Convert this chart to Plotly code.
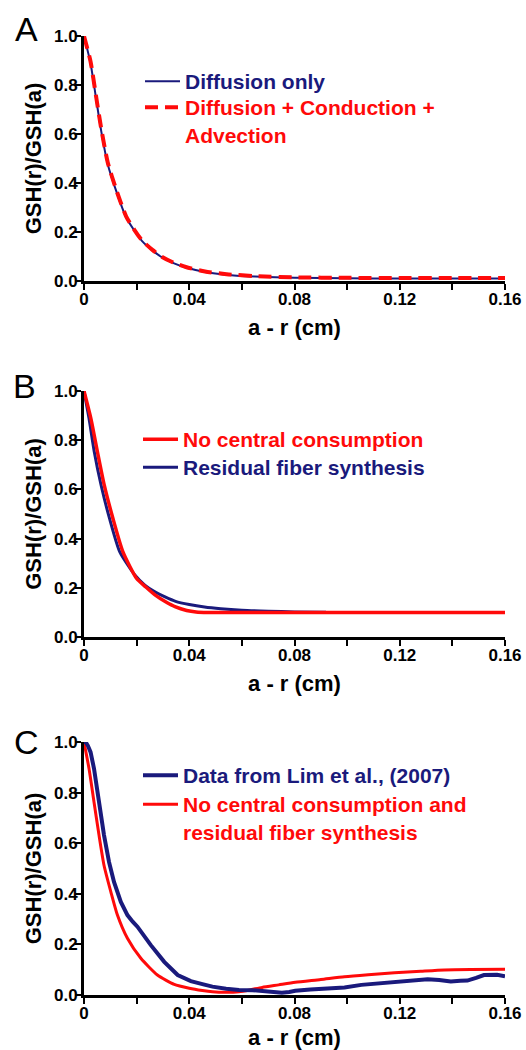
import plotly.graph_objects as go

# ---------------- Data ----------------
# Panel A
a_x = [0, 0.0025, 0.0045, 0.0065, 0.009, 0.0122, 0.016, 0.019, 0.022, 0.026, 0.0297,
       0.034, 0.0387, 0.046, 0.055, 0.065, 0.08, 0.10, 0.12, 0.14, 0.16]
a_diffusion = [1.0, 0.888, 0.751, 0.615, 0.478, 0.369, 0.26, 0.208, 0.164, 0.125, 0.096,
               0.073, 0.055, 0.037, 0.025, 0.018, 0.013, 0.011, 0.010, 0.010, 0.010]
a_full = [1.0, 0.895, 0.76, 0.625, 0.485, 0.374, 0.264, 0.211, 0.166, 0.127, 0.098,
          0.075, 0.057, 0.039, 0.027, 0.020, 0.015, 0.013, 0.012, 0.012, 0.012]

# Panel B
b_x_red = [0, 0.0026, 0.0051, 0.0077, 0.011, 0.0148, 0.020, 0.0235, 0.0271, 0.031, 0.0348,
           0.039, 0.0426, 0.047, 0.06, 0.08, 0.10, 0.12, 0.14, 0.16]
b_no_central = [1.0, 0.889, 0.753, 0.617, 0.482, 0.346, 0.238, 0.203, 0.170, 0.143, 0.122,
                0.108, 0.102, 0.100, 0.100, 0.100, 0.100, 0.100, 0.100, 0.100]
b_x_blue = [0, 0.0019, 0.0039, 0.0065, 0.0097, 0.0136, 0.0194, 0.023, 0.0271, 0.031, 0.0348,
            0.040, 0.0458, 0.052, 0.06, 0.07, 0.08, 0.092]
b_residual = [1.0, 0.889, 0.753, 0.617, 0.482, 0.346, 0.251, 0.212, 0.183, 0.162, 0.145,
              0.132, 0.122, 0.115, 0.109, 0.105, 0.102, 0.101]

# Panel C
c_x_data = [0, 0.0006, 0.0015, 0.0025, 0.0038, 0.0057, 0.0076, 0.0095, 0.0114, 0.014, 0.0165,
            0.0185, 0.0203, 0.0254, 0.0305, 0.0356, 0.0406, 0.045, 0.0488, 0.054, 0.0589,
            0.064, 0.0677, 0.071, 0.0752, 0.078, 0.0803, 0.086, 0.0928, 0.099, 0.1054, 0.112,
            0.118, 0.125, 0.1306, 0.135, 0.1394, 0.143, 0.1457, 0.149, 0.152, 0.157, 0.160]
c_lim_data = [1.0, 1.0, 0.985, 0.96, 0.895, 0.763, 0.632, 0.526, 0.447, 0.368, 0.316,
              0.29, 0.27, 0.197, 0.131, 0.079, 0.055, 0.043, 0.033, 0.025, 0.020,
              0.019, 0.017, 0.014, 0.009, 0.012, 0.017, 0.022, 0.026, 0.030, 0.040, 0.046,
              0.049, 0.054, 0.062, 0.059, 0.053, 0.056, 0.057, 0.068, 0.079, 0.080, 0.074]
c_x_model = [0, 0.0019, 0.0038, 0.0057, 0.0076, 0.0102, 0.0127, 0.0165, 0.0216, 0.0279,
             0.0343, 0.040, 0.045, 0.0488, 0.054, 0.0589, 0.063, 0.0677, 0.074, 0.0803,
             0.090, 0.099, 0.108, 0.118, 0.128, 0.137, 0.147, 0.160]
c_model = [1.0, 0.895, 0.763, 0.632, 0.513, 0.408, 0.316, 0.224, 0.145, 0.079,
           0.042, 0.027, 0.018, 0.013, 0.011, 0.013, 0.020, 0.030, 0.040, 0.050,
           0.061, 0.072, 0.080, 0.088, 0.094, 0.099, 0.101, 0.102]

x_ticks = [0, 0.04, 0.08, 0.12, 0.16]
x_tick_text = ["0", "0.04", "0.08", "0.12", "0.16"]
y_ticks = [0.0, 0.2, 0.4, 0.6, 0.8, 1.0]
y_tick_text = ["0.0", "0.2", "0.4", "0.6", "0.8", "1.0"]
panel_letters = ["A", "B", "C"]

NAVY = "#1a1a7c"
RED = "#ff0a0a"
W, H = 526, 1050
FONT = "Liberation Sans, Arial, sans-serif"
TICKFONT = dict(family=FONT, size=17, color="black", weight="bold")


def lbl(text, color):
    return f'<span style="color:{color}">{text}</span>'


fig = go.Figure()

# Panel A
fig.add_trace(go.Scatter(x=a_x, y=a_diffusion, mode="lines", xaxis="x", yaxis="y",
                         line=dict(color=NAVY, width=2, shape="spline", smoothing=0.6),
                         name=lbl("Diffusion only", NAVY), legend="legend"))
fig.add_trace(go.Scatter(x=a_x, y=a_full, mode="lines", xaxis="x", yaxis="y",
                         line=dict(color=RED, width=4, dash="13px,7px", shape="spline", smoothing=0.6),
                         name=lbl("Diffusion + Conduction +<br>Advection", RED), legend="legend2"))

# Panel B
fig.add_trace(go.Scatter(x=b_x_blue, y=b_residual, mode="lines", xaxis="x2", yaxis="y2",
                         line=dict(color=NAVY, width=3, shape="spline", smoothing=0.6),
                         name=lbl("Residual fiber synthesis", NAVY), legend="legend4"))
fig.add_trace(go.Scatter(x=b_x_red, y=b_no_central, mode="lines", xaxis="x2", yaxis="y2",
                         line=dict(color=RED, width=3.5, shape="spline", smoothing=0.6),
                         name=lbl("No central consumption", RED), legend="legend3"))

# Panel C
fig.add_trace(go.Scatter(x=c_x_model, y=c_model, mode="lines", xaxis="x3", yaxis="y3",
                         line=dict(color=RED, width=3, shape="spline", smoothing=0.6),
                         name=lbl("No central consumption and<br>residual fiber synthesis", RED),
                         legend="legend6"))
fig.add_trace(go.Scatter(x=c_x_data, y=c_lim_data, mode="lines", xaxis="x3", yaxis="y3",
                         line=dict(color=NAVY, width=4),
                         name=lbl("Data from Lim et al., (2007)", NAVY), legend="legend5"))

x_dom = [84 / W, 505 / W]
panels = [  # (y pixel of 0, y pixel of 1.0)
    (281, 36),
    (637, 391),
    (995, 742),
]


def xaxis_cfg():
    return dict(
        domain=x_dom, range=[0, 0.16], showgrid=False, zeroline=False, automargin=False,
        showline=True, linecolor="black", linewidth=3,
        ticks="outside", ticklen=6, tickwidth=2, tickcolor="black",
        tickvals=x_ticks, ticktext=x_tick_text, tickfont=TICKFONT, ticklabelstandoff=-5,
        minor=dict(dtick=0.02, tick0=0, ticks="outside", ticklen=6, tickwidth=2, tickcolor="black"),
        title=dict(text="a - r (cm)", font=dict(family=FONT, size=22, color="black", weight="bold"),
                   standoff=12),
        fixedrange=True,
    )


def yaxis_cfg(dom, anchor):
    return dict(
        domain=dom, range=[0, 1.0], showgrid=False, zeroline=False, anchor=anchor, automargin=False,
        showline=True, linecolor="black", linewidth=3,
        ticks="outside", ticklen=6, tickwidth=2, tickcolor="black",
        tickvals=y_ticks, ticktext=y_tick_text, tickfont=TICKFONT, ticklabelstandoff=-6,
        title=dict(text="GSH(r)/GSH(a)", font=dict(family=FONT, size=22, color="black", weight="bold"),
                   standoff=7),
        fixedrange=True,
    )


layout = dict(width=W, height=H, margin=dict(l=0, r=0, t=0, b=0, autoexpand=False),
              paper_bgcolor="white", plot_bgcolor="white", showlegend=True)

for i, (p0, p1) in enumerate(panels):
    suf = "" if i == 0 else str(i + 1)
    dom = [(H - p0) / H, (H - p1) / H]
    xa = xaxis_cfg()
    xa["anchor"] = "y" + suf
    layout["xaxis" + suf] = xa
    layout["yaxis" + suf] = yaxis_cfg(dom, "x" + suf)

legend_common = dict(bgcolor="rgba(0,0,0,0)", borderwidth=0, xanchor="left", yanchor="top",
                     font=dict(family=FONT, size=21, weight="bold"), itemwidth=35, valign="top")
# (legend key, left x px, first-line centre y px)
legend_pos = [("legend", 140, 82), ("legend2", 140, 108),
              ("legend3", 138, 440), ("legend4", 138, 468),
              ("legend5", 138, 776), ("legend6", 138, 805)]
for key, lx, ly in legend_pos:
    layout[key] = dict(legend_common, x=lx / W, y=(H - (ly - 21)) / H)

letter_pos = [(26, 29), (24, 386), (26, 742)]
layout["annotations"] = [
    dict(text=t, x=px / W, y=(H - py) / H, xref="paper", yref="paper", showarrow=False,
         xanchor="center", yanchor="middle", font=dict(family=FONT, size=34, color="black"))
    for t, (px, py) in zip(panel_letters, letter_pos)
]

fig.update_layout(**layout)
fig.write_html("out.html", config={"displayModeBar": False},
               post_script="document.body.style.margin='0';")
